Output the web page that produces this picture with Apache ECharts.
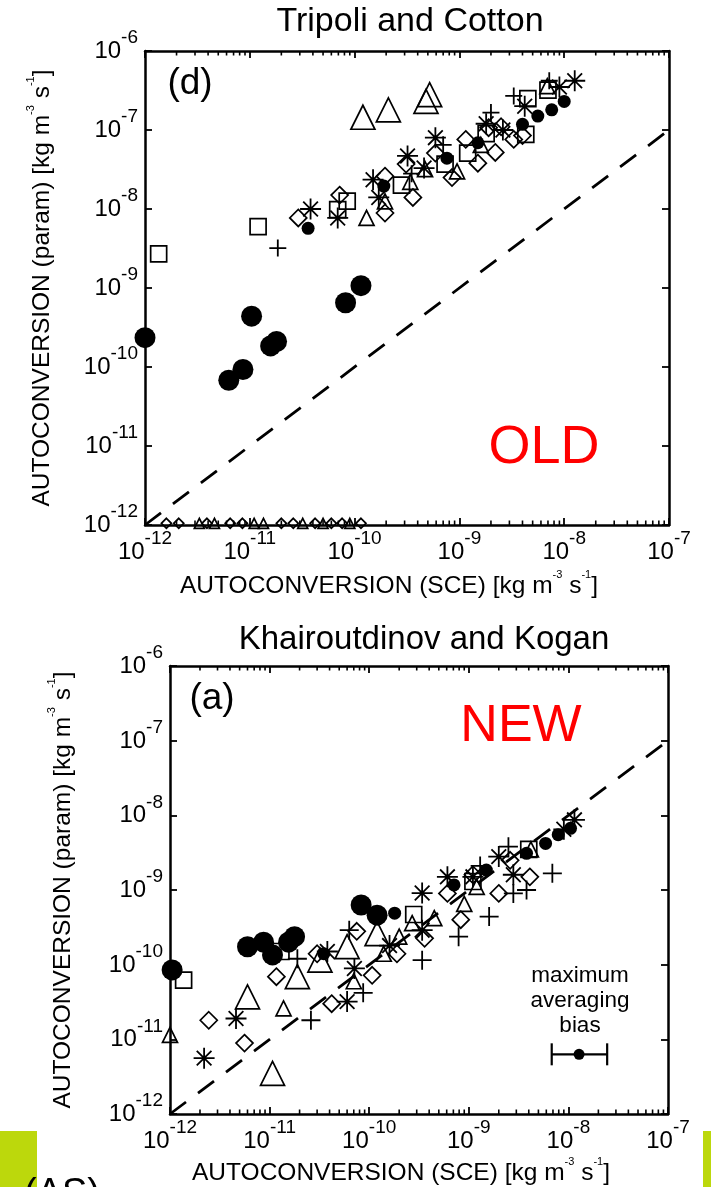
<!DOCTYPE html>
<html><head><meta charset="utf-8">
<script src="https://cdn.jsdelivr.net/npm/echarts@6/dist/echarts.min.js"></script>
<style>html,body{margin:0;padding:0;background:#fff}#c{width:711px;height:1187px}</style>
</head><body><div id="c"></div>
<script>
const FONT = "'Liberation Sans', Arial, sans-serif";

// ---------- Tripoli and Cotton (OLD) ----------
const tcFilledBig = [[1.0e-12,2.35e-10],[6.3e-12,6.8e-11],[8.6e-12,9.3e-11],[1.04e-11,4.4e-10],[1.58e-11,1.85e-10],[1.8e-11,2.1e-10],[8.2e-11,6.5e-10],[1.15e-10,1.07e-9]];
const tcFilledSmall = [[3.6e-11,5.7e-9],[1.9e-10,1.95e-8],[7.6e-10,4.4e-8],[1.5e-9,6.9e-8],[4.0e-9,1.18e-7],[5.6e-9,1.5e-7],[7.6e-9,1.8e-7],[1.0e-8,2.3e-7]];
const tcTriBig = [[1.2e-10,1.45e-7],[2.1e-10,1.8e-7],[4.8e-10,2.3e-7],[5.2e-10,2.8e-7]];
const tcTriSmall = [[1.3e-10,7.7e-9],[1.95e-10,1.25e-8],[3.4e-10,2.2e-8],[4.7e-10,3.2e-8],[9.5e-10,3.0e-8],[1.6e-9,6.5e-8],[6.9e-9,3.6e-7]];
const tcDiamond = [[2.9e-11,7.7e-9],[7.2e-11,1.5e-8],[1.95e-10,2.6e-8],[1.95e-10,8.9e-9],[3.1e-10,3.7e-8],[3.6e-10,1.4e-8],[5.9e-10,5.1e-8],[8.5e-10,2.5e-8],[1.15e-9,7.6e-8],[1.5e-9,3.8e-8],[1.9e-9,1.07e-7],[2.2e-9,5.2e-8],[2.5e-9,1.1e-7],[3.3e-9,7.6e-8],[4.0e-9,8.5e-8]];
const tcSquare = [[1.35e-12,2.7e-9],[1.2e-11,6.0e-9],[8.5e-11,1.26e-8],[6.9e-11,9.8e-9],[2.8e-10,2.0e-8],[7.3e-10,3.7e-8],[1.2e-9,5.1e-8],[1.8e-9,9.0e-8],[4.3e-9,8.8e-8],[4.5e-9,2.5e-7],[7.0e-9,3.2e-7]];
const tcPlus = [[1.85e-11,3.2e-9],[3.5e-10,2.8e-8],[7.0e-10,6.5e-8],[2.0e-9,1.66e-7],[3.3e-9,2.7e-7],[7.2e-9,4.2e-7]];
const tcAster = [[3.8e-11,1.0e-8],[6.9e-11,7.7e-9],[1.5e-10,2.35e-8],[1.7e-10,1.4e-8],[3.2e-10,4.7e-8],[4.6e-10,3.3e-8],[5.9e-10,8.0e-8],[1.8e-9,1.2e-7],[2.6e-9,1.0e-7],[4.2e-9,2.0e-7],[9.0e-9,3.5e-7],[1.26e-8,4.2e-7]];
const tcZeroTri = [[3.3e-12,1.05e-12],[4.6e-12,1.05e-12],[1.1e-11,1.05e-12],[1.35e-11,1.05e-12],[3.2e-11,1.05e-12],[5.0e-11,1.05e-12],[9.0e-11,1.05e-12]];
const tcZeroDiamond = [[1.6e-12,1.05e-12],[2.1e-12,1.05e-12],[3.9e-12,1.05e-12],[6.5e-12,1.05e-12],[8.5e-12,1.05e-12],[2.0e-11,1.05e-12],[2.6e-11,1.05e-12],[4.2e-11,1.05e-12],[6.0e-11,1.05e-12],[7.6e-11,1.05e-12],[1.15e-10,1.05e-12]];

// ---------- Khairoutdinov and Kogan (NEW) ----------
const kkFilledBig = [[1.05e-12,8.5e-11],[6.0e-12,1.74e-10],[8.7e-12,2.0e-10],[1.07e-11,1.35e-10],[1.55e-11,2.0e-10],[1.78e-11,2.37e-10],[8.3e-11,6.3e-10],[1.2e-10,4.6e-10]];
const kkFilledSmall = [[3.5e-11,1.4e-10],[1.8e-10,4.9e-10],[7.1e-10,1.17e-9],[1.5e-9,1.85e-9],[3.8e-9,3.1e-9],[5.9e-9,4.2e-9],[7.9e-9,5.5e-9],[1.05e-8,6.7e-9]];
const kkTriBig = [[6.0e-12,3.7e-11],[1.9e-11,6.9e-11],[1.07e-11,3.5e-12],[1.2e-10,2.6e-10],[6.0e-11,1.74e-10],[3.2e-11,1.15e-10]];
const kkTriSmall = [[1.0e-12,1.15e-11],[1.38e-11,2.6e-11],[1.4e-10,1.4e-10],[2.0e-10,2.37e-10],[7.0e-11,6.0e-11],[2.7e-10,3.6e-10],[4.5e-10,4.2e-10],[9.0e-10,6.5e-10],[1.2e-9,1.1e-9],[4.2e-9,3.5e-9]];
const kkDiamond = [[2.45e-12,1.8e-11],[5.6e-12,8.9e-12],[1.17e-11,6.9e-11],[3.0e-11,1.4e-10],[4.2e-11,3.0e-11],[1.07e-10,7.2e-11],[7.5e-11,2.8e-10],[1.9e-10,1.4e-10],[3.6e-10,2.25e-10],[8.3e-10,4.0e-10],[6.1e-10,9.0e-10],[1.1e-9,1.6e-9],[2.0e-9,9.0e-10],[4.1e-9,1.5e-9],[2.6e-9,2.5e-9]];
const kkSquare = [[1.37e-12,6.2e-11],[1.3e-11,1.5e-10],[2.8e-10,4.7e-10],[1.1e-9,1.3e-9],[4.0e-9,3.5e-9]];
const kkPlus = [[2.6e-11,1.8e-11],[8.7e-11,4.2e-11],[1.9e-11,1.2e-10],[6.3e-11,2.9e-10],[1.0e-10,5.6e-10],[3.4e-10,1.15e-10],[7.9e-10,2.37e-10],[1.6e-9,4.4e-10],[2.8e-9,9.0e-10],[3.8e-9,1.0e-9],[6.9e-9,1.67e-9],[2.5e-9,3.8e-9],[1.3e-9,2.1e-9]];
const kkAster = [[2.2e-12,5.6e-12],[4.6e-12,1.9e-11],[6.0e-11,3.2e-11],[7.1e-11,8.9e-11],[3.8e-11,1.5e-10],[3.4e-10,2.9e-10],[3.4e-10,9.1e-10],[1.6e-10,1.8e-10],[6.1e-10,1.5e-9],[2.8e-9,1.6e-9],[2.0e-9,2.8e-9],[1.1e-9,1.5e-9],[9.0e-9,6.5e-9],[1.15e-8,8.7e-9]];
// maximum averaging bias: [centre x, y, low x, high x]
const kkBias = [[1.28e-8,6.3e-12,6.8e-9,2.45e-8]];

// 1:1 reference line
const oneToOne = [[1e-12,1e-12],[1e-7,1e-7]];

// axis ranges
const xRange = [1e-12, 1e-7];
const yRange = [1e-12, 1e-6];
// minor tick mantissas on the x axes
const minorMant = [2,3,4,5,6,7,8,9];
const minorExp = [-12,-11,-10,-9,-8];

const chart = echarts.init(document.getElementById('c'), null, {renderer:'canvas', width:711, height:1187});

const tickRich = {
  b:{fontSize:24, fontFamily:FONT, color:'#000', lineHeight:35, verticalAlign:'bottom'},
  s:{fontSize:19, fontFamily:FONT, color:'#000', lineHeight:19, verticalAlign:'top'}
};
function fmt(v){ const e = Math.round(Math.log10(v)); return '{b|10}{s|' + e + '}'; }
const nameRich = {
  t:{fontSize:24.5, fontFamily:FONT, color:'#000', lineHeight:30, verticalAlign:'bottom'},
  s:{fontSize:11, fontFamily:FONT, color:'#000', lineHeight:11, verticalAlign:'top'}
};
const unitName = (what) => '{t|AUTOCONVERSION (' + what + ') [kg m}{s|-3}{t| s}{s|-1}{t|]}';

function baseAxis(gi, pos, range){
  return {type:'log', logBase:10, gridIndex:gi, position:pos, min:range[0], max:range[1],
    splitLine:{show:false}, minorTick:{show:false},
    axisLine:{show:true, onZero:false, lineStyle:{color:'#000', width:2.5}},
    axisTick:{show:true, inside:true, length:7, lineStyle:{color:'#000', width:1.8}},
    axisLabel:{show:false}};
}
function xMain(gi, gap){
  const a = baseAxis(gi,'bottom',xRange);
  a.axisLabel = {show:true, formatter:fmt, rich:tickRich, margin:4, showMinLabel:true, showMaxLabel:true, hideOverlap:false};
  a.name = unitName('SCE'); a.nameLocation='middle'; a.nameGap=gap;
  a.nameTextStyle = {rich:nameRich, padding:[0,36,0,0]};
  return a;
}
function yMain(gi, gap){
  const a = baseAxis(gi,'left',yRange);
  a.axisLabel = {show:true, formatter:fmt, rich:tickRich, margin:7, padding:[0,0,10,0], showMinLabel:true, showMaxLabel:true, hideOverlap:false};
  a.name = unitName('param'); a.nameLocation='middle'; a.nameGap=gap; a.nameRotate=90;
  a.nameTextStyle = {rich:nameRich};
  return a;
}

const minorX = [];
minorExp.forEach(e => minorMant.forEach(m => minorX.push([m*Math.pow(10,e)])));

function minorSeries(gi){
  return {type:'custom', xAxisIndex:gi*2, yAxisIndex:gi*2, data:minorX, silent:true, z:5,
    renderItem:(params, api) => {
      const x = api.value(0);
      const b = api.coord([x, yRange[0]]);
      const t = api.coord([x, yRange[1]]);
      const st = {stroke:'#000', lineWidth:1.6};
      return {type:'group', children:[
        {type:'line', shape:{x1:b[0], y1:b[1], x2:b[0], y2:b[1]-4.5}, style:st},
        {type:'line', shape:{x1:t[0], y1:t[1], x2:t[0], y2:t[1]+4.5}, style:st}
      ]};
    }};
}

const PLUS = 'path://M0,5L10,5M5,0L5,10';
const ASTER = 'path://M0,5L10,5M5,0L5,10M1.5,1.5L8.5,8.5M1.5,8.5L8.5,1.5';
const openStyle = {color:'rgba(0,0,0,0)', borderColor:'#000', borderWidth:1.7, opacity:1};
const lineStyle = {color:'rgba(0,0,0,0)', borderColor:'#000', borderWidth:1.8, opacity:1};
const fillStyle = {color:'#000', opacity:1};

function sc(gi, data, symbol, size, style){
  return {type:'scatter', xAxisIndex:gi*2, yAxisIndex:gi*2, data:data, symbol:symbol, symbolSize:size,
    itemStyle:style, clip:false, silent:true, animation:false, z:3};
}
function diag(gi){
  return {type:'line', xAxisIndex:gi*2, yAxisIndex:gi*2, data:oneToOne, symbol:'none', silent:true, z:2,
    lineStyle:{color:'#000', width:2.8, type:[20,15]}};
}

const series = [
  diag(0),
  sc(0, tcFilledBig, 'circle', 21, fillStyle),
  sc(0, tcFilledSmall, 'circle', 13, fillStyle),
  sc(0, tcTriBig, 'triangle', 24, openStyle),
  sc(0, tcTriSmall, 'triangle', 15, openStyle),
  sc(0, tcDiamond, 'diamond', 17, openStyle),
  sc(0, tcSquare, 'rect', 16, openStyle),
  sc(0, tcPlus, PLUS, 17, lineStyle),
  sc(0, tcAster, ASTER, 21, lineStyle),
  sc(0, tcZeroTri, 'triangle', 10, openStyle),
  sc(0, tcZeroDiamond, 'diamond', 10, openStyle),
  minorSeries(0),
  diag(1),
  sc(1, kkFilledBig, 'circle', 21, fillStyle),
  sc(1, kkFilledSmall, 'circle', 13, fillStyle),
  sc(1, kkTriBig, 'triangle', 24, openStyle),
  sc(1, kkTriSmall, 'triangle', 15, openStyle),
  sc(1, kkDiamond, 'diamond', 17, openStyle),
  sc(1, kkSquare, 'rect', 16, openStyle),
  sc(1, kkPlus, PLUS, 19, lineStyle),
  sc(1, kkAster, ASTER, 21, lineStyle),
  minorSeries(1),
  {type:'custom', xAxisIndex:2, yAxisIndex:2, data:kkBias, silent:true, z:6,
    renderItem:(params, api) => {
      const c = api.coord([api.value(0), api.value(1)]);
      const lo = api.coord([api.value(2), api.value(1)]);
      const hi = api.coord([api.value(3), api.value(1)]);
      const st = {stroke:'#000', lineWidth:2.2};
      return {type:'group', children:[
        {type:'line', shape:{x1:lo[0], y1:lo[1], x2:hi[0], y2:hi[1]}, style:st},
        {type:'line', shape:{x1:lo[0], y1:lo[1]-11, x2:lo[0], y2:lo[1]+11}, style:st},
        {type:'line', shape:{x1:hi[0], y1:hi[1]-11, x2:hi[0], y2:hi[1]+11}, style:st},
        {type:'circle', shape:{cx:c[0], cy:c[1], r:5.5}, style:{fill:'#000'}}
      ]};
    }}
];

function txt(x, y, text, size, color){
  return {type:'text', x:x, y:y, silent:true, z:10,
    style:{text:text, fontSize:size, fontFamily:FONT, fill:color||'#000', align:'center', verticalAlign:'middle'}};
}

const option = {
  backgroundColor:'#fff',
  animation:false,
  grid:[
    {left:145, top:51, width:524, height:474, containLabel:false},
    {left:170, top:666, width:498, height:448, containLabel:false}
  ],
  xAxis:[ xMain(0, 44), baseAxis(0,'top',xRange), xMain(1, 42), baseAxis(1,'top',xRange) ],
  yAxis:[ yMain(0, 90), baseAxis(0,'right',yRange), yMain(1, 94), baseAxis(1,'right',yRange) ],
  series:series,
  graphic:[
    txt(410, 22, 'Tripoli and Cotton', 34),
    txt(424, 640, 'Khairoutdinov and Kogan', 33),
    txt(190, 84, '(d)', 37),
    txt(212, 699, '(a)', 37),
    txt(544, 448, 'OLD', 54, '#ff0000'),
    txt(521, 727, 'NEW', 52, '#ff0000'),
    txt(580, 976, 'maximum', 22.5),
    txt(580, 1001, 'averaging', 22.5),
    txt(580, 1026, 'bias', 22.5),
    {type:'rect', shape:{x:0, y:1131, width:37, height:56}, style:{fill:'#bcd80c'}, silent:true, z:1},
    {type:'rect', shape:{x:703, y:1131, width:8, height:56}, style:{fill:'#bcd80c'}, silent:true, z:1},
    {type:'text', x:24, y:1176, silent:true, z:10, style:{text:'(AS)', fontSize:38, fontFamily:FONT, fill:'#000', align:'left', verticalAlign:'top'}}
  ]
};
chart.setOption(option);
</script></body></html>
